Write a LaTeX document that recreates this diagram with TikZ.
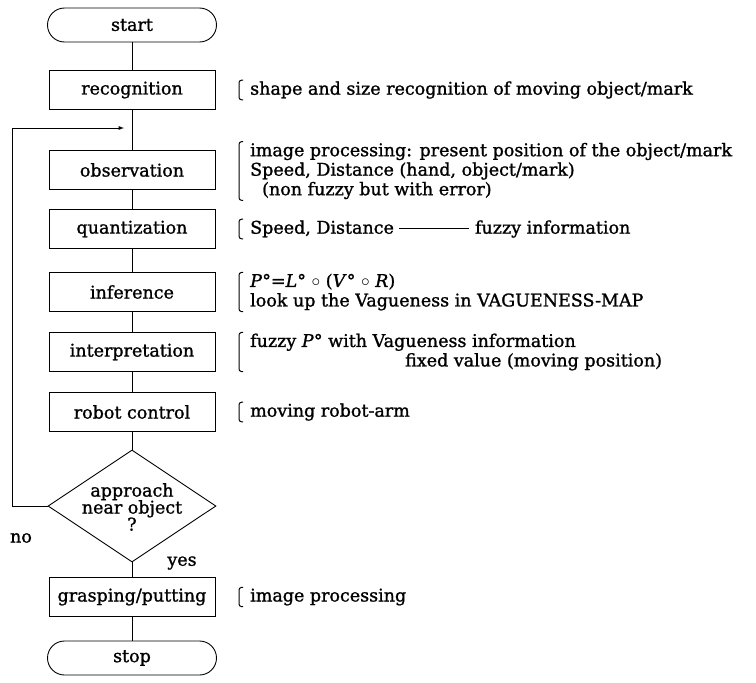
\documentclass[tikz,border=0pt]{standalone}
\usepackage{fontspec}
\setmainfont{DejaVu Serif}[FakeBold=1.2]
\newfontfamily\flowfont{DejaVu Serif}[FakeBold=1.2]
\usetikzlibrary{arrows,shapes.geometric}
\newcommand{\FlowFont}{\flowfont\fontsize{17.5}{19.5}\selectfont}
\newcommand{\notebracket}[1]{%
  \draw[brk] ([xshift=-7pt,yshift=1pt]#1.north west) -- ([xshift=-11pt,yshift=1pt]#1.north west)
    -- ([xshift=-11pt,yshift=-1pt]#1.south west) -- ([xshift=-7pt,yshift=-1pt]#1.south west);}

\begin{document}
\begin{tikzpicture}[>=latex, x=1pt, y=-1pt,
  every node/.style={font=\FlowFont},
  proc/.style={draw, line width=0.9pt, minimum width=166pt, minimum height=39pt, inner sep=0pt},
  term/.style={draw, line width=0.9pt, rounded corners=17pt, minimum width=169pt, minimum height=34pt, inner sep=0pt},
  decision/.style={draw, diamond, line width=0.9pt, minimum width=168pt, minimum height=112pt, inner sep=0pt},
  note/.style={anchor=west, align=left, inner sep=0pt},
  brk/.style={line width=1pt, rounded corners=2.5pt},
  flow/.style={line width=0.9pt}]
  \useasboundingbox (0,0) rectangle (756,683);

  % flow chart
  \node[term] (start) at (132,25) {start};
  \node[proc] (recog) at (132,90) {recognition};
  \node[proc] (obs) at (132,170) {observation};
  \node[proc] (quant) at (132,229) {quantization};
  \node[proc] (infer) at (132,292) {inference};
  \node[proc] (interp) at (132,352) {interpretation};
  \node[proc] (robot) at (132,412) {robot control};
  \node[decision] (dec) at (132,506) {};
  \node[align=center, font=\flowfont\fontsize{17.5}{17}\selectfont] (dectext) at (132,507) {approach\\near object\\?};
  \node[proc] (grasp) at (132,597) {grasping/putting};
  \node[term] (stop) at (132,658) {stop};
  \coordinate (join) at (132,128);

  \draw[flow] (start) -- (recog);
  \draw[flow] (recog) -- (obs);
  \draw[flow] (obs) -- (quant);
  \draw[flow] (quant) -- (infer);
  \draw[flow] (infer) -- (interp);
  \draw[flow] (interp) -- (robot);
  \draw[flow] (robot) -- (dec);
  \draw[flow] (dec) -- (grasp);
  \draw[flow] (grasp) -- (stop);
  \draw[flow,->] (dec.west) -- ++(-35,0) |- ([xshift=-8pt]join);

  \node (nolbl) at (21,538) {no};
  \node (yeslbl) at (182,563) {yes};

  % notes
  \node[note] (n1) at (250,90) {shape and size recognition of moving object/mark};
  \node[note] (n2) at (250,171) {image processing: present position of the object/mark\\
    Speed, Distance (hand, object/mark)\\\hspace*{12pt}(non fuzzy but with error)};
  \node[note] (n3) at (250,229) {Speed, Distance \rule[5pt]{70pt}{0.7pt} fuzzy information};
  \node[note] (n4) at (250,292) {\textit{P}°=\textit{L}° $\circ$ (\textit{V}° $\circ$ \textit{R})\\look up the Vagueness in VAGUENESS-MAP};
  \node[note] (n5) at (250,352) {fuzzy \textit{P}° with Vagueness information\\\hspace*{155pt}fixed value (moving position)};
  \node[note] (n6) at (250,412) {moving robot-arm};
  \node[note] (n7) at (250,597) {image processing};
  \notebracket{n1}
  \notebracket{n2}
  \notebracket{n3}
  \notebracket{n4}
  \notebracket{n5}
  \notebracket{n6}
  \notebracket{n7}
\end{tikzpicture}
\end{document}
